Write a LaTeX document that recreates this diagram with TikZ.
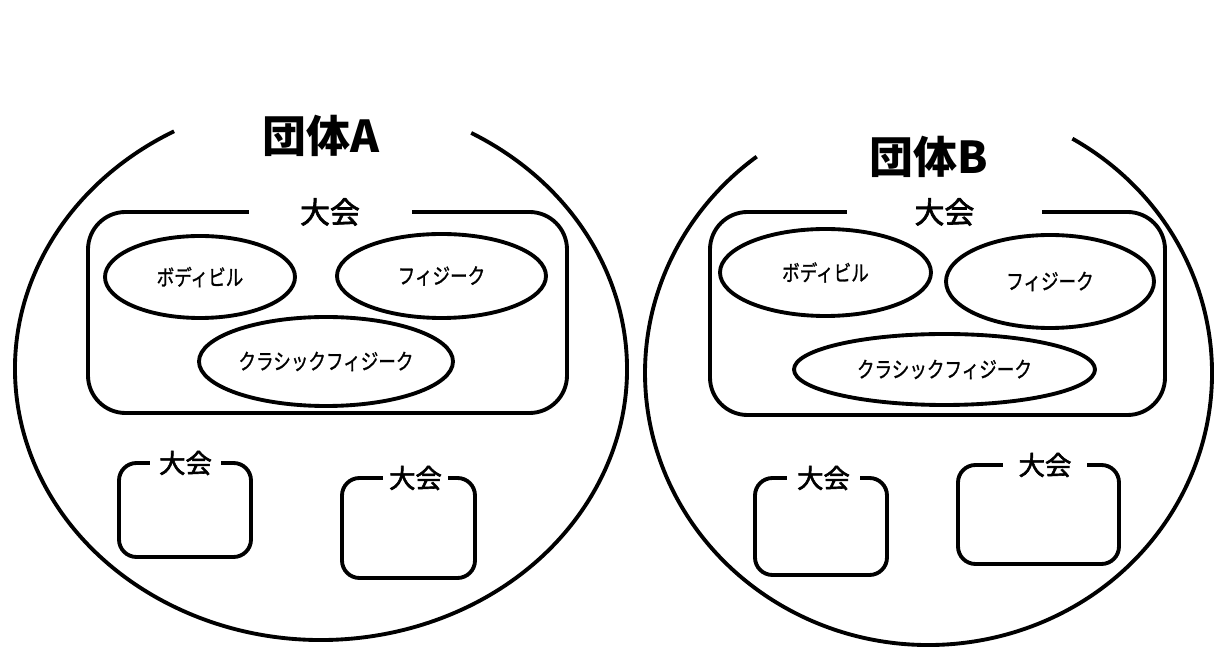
\documentclass[tikz,border=0pt]{standalone}
\usepackage{fontspec}
\setmainfont{Noto Sans CJK JP}
\newfontfamily\meetfont[FakeBold=2.2]{Noto Sans CJK JP}
\newfontfamily\eventfont[FakeBold=1.2]{Noto Sans CJK JP}
\newcommand\evtext[1]{\scalebox{1}[1.25]{#1}}
\usetikzlibrary{shapes.geometric}

\begin{document}
\begin{tikzpicture}[
    line width=2.2pt,
    event/.style={draw, ellipse, inner sep=0pt, font=\eventfont\fontsize{10}{12}\selectfont},
    meetlbl/.style={fill=white, inner sep=0pt, minimum height=0.5cm, font=\meetfont\fontsize{15}{18}\selectfont},
    biglbl/.style={meetlbl, font=\meetfont\fontsize{17}{20}\selectfont},
    grouplbl/.style={font=\bfseries\fontsize{25}{30}\selectfont}]
\useasboundingbox (0,0) rectangle (24.58,13.16);
% 団体A
\coordinate (cA) at (6.42,5.78);
\draw ([shift={(60.6:6.12cm and 5.42cm)}]cA) arc[start angle=60.6, end angle=-241.3, x radius=6.12cm, y radius=5.42cm];
\node[grouplbl] (gA) at (6.42,10.44) {団体A};
\draw[rounded corners=0.75cm] (1.76,4.90) rectangle (11.34,8.92);
\node[biglbl, minimum width=3.26cm] (kA) at (6.60,8.92) {大会};
\node[event, minimum width=3.8cm, minimum height=1.64cm] (bA) at (4.00,7.62) {\evtext{ボディビル}};
\node[event, minimum width=4.18cm, minimum height=1.68cm] (pA) at (8.83,7.64) {\evtext{フィジーク}};
\node[event, minimum width=5.08cm, minimum height=1.78cm] (cpA) at (6.52,5.93) {\evtext{クラシックフィジーク}};
\draw[rounded corners=0.35cm] (2.38,2.02) rectangle (5.02,3.90);
\node[meetlbl, minimum width=1.42cm] (kA1) at (3.71,3.90) {大会};
\draw[rounded corners=0.35cm] (6.84,1.60) rectangle (9.50,3.60);
\node[meetlbl, minimum width=1.30cm] (kA2) at (8.31,3.60) {大会};
% 団体B
\coordinate (cB) at (18.57,5.70);
\draw ([shift={(59.5:5.67cm and 5.44cm)}]cB) arc[start angle=59.5, end angle=-232.7, x radius=5.67cm, y radius=5.44cm];
\node[grouplbl] (gB) at (18.58,10.02) {団体B};
\draw[rounded corners=0.75cm] (14.20,4.86) rectangle (23.30,8.92);
\node[biglbl, minimum width=3.9cm] (kB) at (18.89,8.92) {大会};
\node[event, minimum width=4.22cm, minimum height=1.74cm] (bB) at (16.51,7.71) {\evtext{ボディビル}};
\node[event, minimum width=4.16cm, minimum height=1.86cm] (pB) at (21.00,7.53) {\evtext{フィジーク}};
\node[event, minimum width=6.02cm, minimum height=1.42cm] (cpB) at (18.89,5.77) {\evtext{クラシックフィジーク}};
\draw[rounded corners=0.35cm] (15.10,1.66) rectangle (17.74,3.60);
\node[meetlbl, minimum width=1.46cm] (kB1) at (16.47,3.60) {大会};
\draw[rounded corners=0.35cm] (19.16,1.88) rectangle (22.38,3.86);
\node[meetlbl, minimum width=1.68cm] (kB2) at (20.90,3.86) {大会};
\end{tikzpicture}
\end{document}
